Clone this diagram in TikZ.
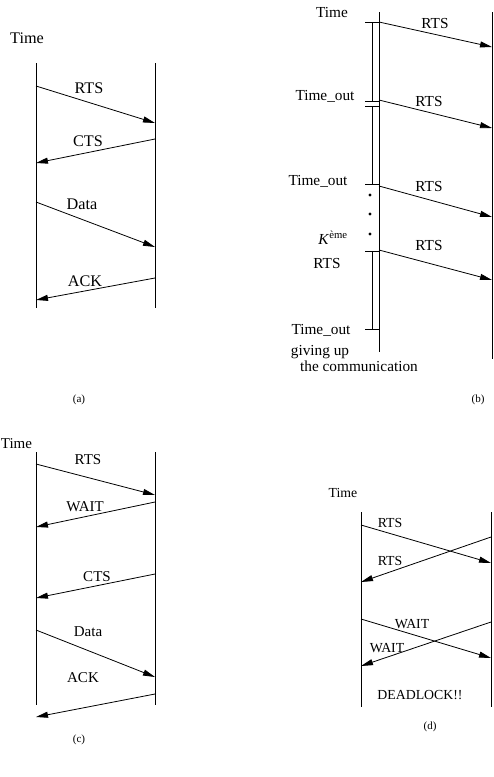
\documentclass[tikz,border=0pt]{standalone}
\usepackage{fontspec}
\setmainfont{Liberation Serif}
\usetikzlibrary{arrows.meta,positioning}

\begin{document}
\begin{tikzpicture}[
    x=1pt, y=-1pt,
    line width=0.8pt,
    msg/.style={-{Triangle[length=12pt, width=6pt]}},
    lbl/.style={inner sep=0pt},
    dot/.style={circle, fill, inner sep=0pt, minimum size=3.2pt},
    capt/.style={inner sep=0pt, font=\fontsize{11}{13}\selectfont},
  ]
  \useasboundingbox (0,0) rectangle (494,777);

  % (a) RTS / CTS / Data / ACK
  \begin{scope}[font=\fontsize{16.2}{19}\selectfont]
    \node[lbl] (a-time) at (27,38) {Time};
    \coordinate (a-l-top) at (36,63);  \coordinate (a-l-bot) at (36,308);
    \coordinate (a-r-top) at (155,63); \coordinate (a-r-bot) at (155,308);
    \draw (a-l-top) -- (a-l-bot);
    \draw (a-r-top) -- (a-r-bot);
    \foreach \n/\xs/\ys/\xe/\ye/\lx/\ly/\txt in {
        rts/36/86/155/123/89/88/RTS,
        cts/155/139/36/163/88/141/CTS,
        data/36/202/155/247/82/204/Data,
        ack/155/278/36/300/85/281/ACK}{
      \coordinate (a-\n-s) at (\xs,\ys);
      \coordinate (a-\n-e) at (\xe,\ye);
      \draw[msg] (a-\n-s) -- (a-\n-e);
      \node[lbl] (a-\n) at (\lx,\ly) {\txt};
    }
  \end{scope}
  \node[capt] (a-capt) at (79,400) {(a)};

  % (b) repeated RTS until giving up
  \begin{scope}[font=\fontsize{15.3}{18}\selectfont]
    \node[lbl, anchor=base] (b-time) at (332,17) {Time};
    \coordinate (b-o-top) at (379,12); \coordinate (b-o-bot) at (379,352);
    \coordinate (b-r-top) at (492,12); \coordinate (b-r-bot) at (492,359);
    \draw (b-o-top) -- (b-o-bot);
    \draw (b-r-top) -- (b-r-bot);
    % timer, cut at each time-out
    \foreach \n/\ya/\yb in {1/22/101, 2/106/184, 3/251/329}{
      \coordinate (b-t\n-s) at (372,\ya);
      \coordinate (b-t\n-e) at (372,\yb);
      \draw (b-t\n-s) -- (b-t\n-e);
    }
    \foreach \n/\y in {a/22, b/101, c/106, d/184, e/251, f/329}{
      \coordinate (b-k\n-w) at (365,\y);
      \coordinate (b-k\n-e) at (379,\y);
      \draw (b-k\n-w) -- (b-k\n-e);
    }
    \foreach \n/\y in {1/195, 2/214, 3/234}
      \node[dot] (b-dot\n) at (370,\y) {};
    % RTS arrows
    \foreach \n/\ys/\ye/\lx/\ly in {1/22/47/435/24, 2/100/128/429/102,
        3/186/217/429/187, 4/250/280/429/246}{
      \coordinate (b-rts\n-s) at (379,\ys);
      \coordinate (b-rts\n-e) at (492,\ye);
      \draw[msg] (b-rts\n-s) -- (b-rts\n-e);
      \node[lbl] (b-rts\n) at (\lx,\ly) {RTS};
    }
    % texts left of the timer
    \node[lbl, anchor=base] (b-to1) at (325,100) {Time\_out};
    \node[lbl, anchor=base] (b-to2) at (318,185) {Time\_out};
    \node[lbl, anchor=base] (b-kth) at (333,244) {\textit{K}\textsuperscript{ème}};
    \node[lbl, anchor=base] (b-kts) at (327,268) {RTS};
    \node[lbl, anchor=base] (b-to3) at (321,334) {Time\_out};
    \node[lbl, anchor=base] (b-give) at (320,355) {giving up};
    \node[lbl, anchor=base] (b-comm) at (359,371) {the communication};
  \end{scope}
  \node[capt] (b-capt) at (478,400) {(b)};

  % (c) RTS answered by WAIT
  \begin{scope}[font=\fontsize{15}{18}\selectfont]
    \node[lbl, anchor=base west] (c-time) at (0.5,448) {Time};
    \coordinate (c-l-top) at (36,452);  \coordinate (c-l-bot) at (36,705);
    \coordinate (c-r-top) at (155,452); \coordinate (c-r-bot) at (155,705);
    \draw (c-l-top) -- (c-l-bot);
    \draw (c-r-top) -- (c-r-bot);
    \foreach \n/\xs/\ys/\xe/\ye/\lx/\ly/\txt in {
        rts/36/464/155/495/88/460/RTS,
        wait/155/502/36/527/85/507/WAIT,
        cts/155/574/36/598/97/577/CTS,
        data/36/630/155/677/88/632/Data,
        ack/155/694/36/717/83/678/ACK}{
      \coordinate (c-\n-s) at (\xs,\ys);
      \coordinate (c-\n-e) at (\xe,\ye);
      \draw[msg] (c-\n-s) -- (c-\n-e);
      \node[lbl] (c-\n) at (\lx,\ly) {\txt};
    }
  \end{scope}
  \node[capt] (c-capt) at (79,740) {(c)};

  % (d) crossing requests
  \begin{scope}[font=\fontsize{13.8}{16}\selectfont]
    \node[lbl] (d-time) at (343,493) {Time};
    \coordinate (d-l-top) at (361,512); \coordinate (d-l-bot) at (361,707);
    \coordinate (d-r-top) at (491,512); \coordinate (d-r-bot) at (491,707);
    \draw (d-l-top) -- (d-l-bot);
    \draw (d-r-top) -- (d-r-bot);
    \foreach \n/\xs/\ys/\xe/\ye/\lx/\ly/\txt in {
        rtsa/361/525/491/563/390/523/RTS,
        rtsb/491/537/361/582/390/561/RTS,
        waita/361/619/491/658/412/624/WAIT,
        waitb/491/622/361/666/387/648/WAIT}{
      \coordinate (d-\n-s) at (\xs,\ys);
      \coordinate (d-\n-e) at (\xe,\ye);
      \draw[msg] (d-\n-s) -- (d-\n-e);
      \node[lbl] (d-\n) at (\lx,\ly) {\txt};
    }
    \node[lbl] (d-dead) at (420,695) {DEADLOCK!!};
  \end{scope}
  \node[capt] (d-capt) at (430,727) {(d)};
\end{tikzpicture}
\end{document}
